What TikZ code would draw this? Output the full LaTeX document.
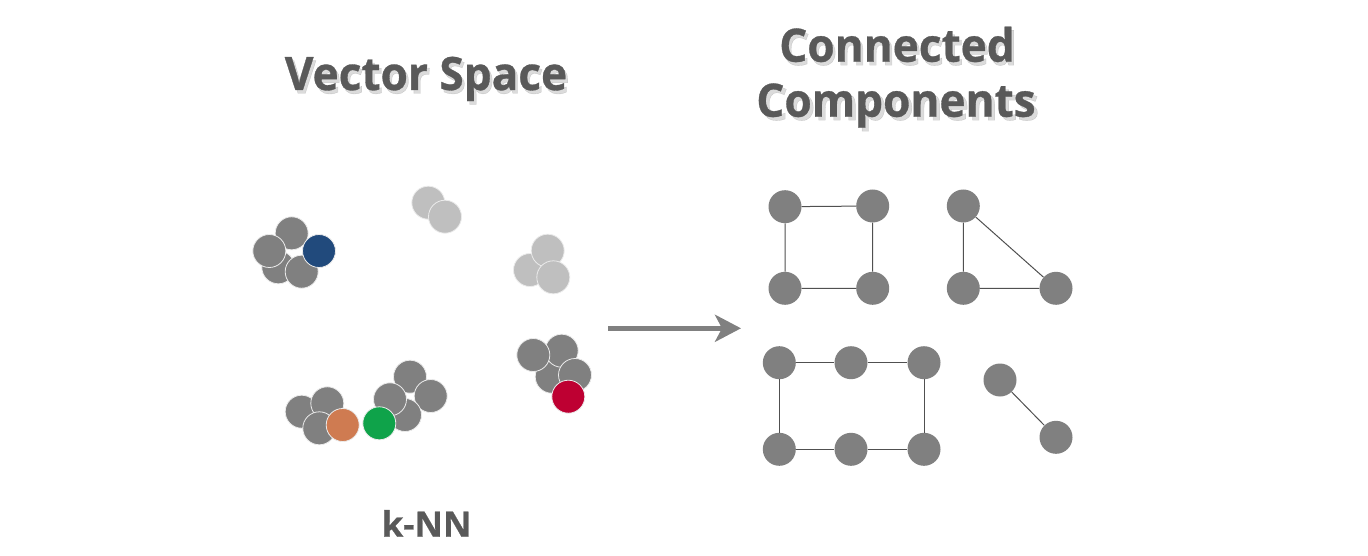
\documentclass[tikz,border=0pt]{standalone}
\usepackage{fontspec}
\setmainfont{Open Sans}
\newfontfamily\ttlfont{Open Sans}[BoldFeatures={FakeBold=0.7}]
\usetikzlibrary{arrows.meta}
\definecolor{txt}{HTML}{595959}
\definecolor{dg}{HTML}{808080}
\definecolor{lg}{HTML}{BFBFBF}
\definecolor{cblue}{HTML}{214A7C}
\definecolor{corange}{HTML}{CF7B51}
\definecolor{cgreen}{HTML}{0FA34A}
\definecolor{cred}{HTML}{BE0032}
\definecolor{edgec}{HTML}{505050}
\tikzset{
  pt/.style={circle, minimum size=33pt, inner sep=0pt, fill=#1, draw=white!92!black, line width=0.8pt},
  gn/.style={circle, minimum size=33pt, inner sep=0pt, fill=dg},
  ed/.style={draw=edgec, line width=1pt},
  ttl/.style={font=\ttlfont\bfseries\fontsize{46}{55}\selectfont, text=txt, inner sep=0pt, anchor=base, xscale=0.96},
  ttlsh/.style={font=\ttlfont\bfseries\fontsize{46}{55}\selectfont, text=black, opacity=0.14, inner sep=0pt, anchor=base, xscale=0.96},
  lbl/.style={font=\ttlfont\bfseries\fontsize{35}{42}\selectfont, text=txt, inner sep=0pt, anchor=base},
}
\begin{document}
\begin{tikzpicture}[x=1pt,y=-1pt]
\useasboundingbox (0,0) rectangle (1368,556);
% title shadows
\node[ttlsh] (vss) at (428.5,93.5) {Vector Space};
\node[ttlsh] (cas) at (899.5,65.2) {Connected};
\node[ttlsh] (cbs) at (899.5,120.2) {Components};
% titles
\node[ttl] (vs) at (426,90) {Vector Space};
\node[ttl] (ca) at (897,61.7) {Connected};
\node[ttl] (cb) at (896,116.7) {Components};
\node[lbl] (knn) at (426.5,536.7) {k-NN};
% vector space: cluster with blue
\node[pt=dg] (a1) at (278.3,267.3) {};
\node[pt=dg] (a2) at (291.7,233.3) {};
\node[pt=dg] (a3) at (269.3,251) {};
\node[pt=dg] (a4) at (301.7,271.7) {};
\node[pt=cblue] (a5) at (319,251) {};
% light clusters
\node[pt=lg] (b1) at (428.3,202.7) {};
\node[pt=lg] (b2) at (445,216.7) {};
\node[pt=lg] (c1) at (530,270) {};
\node[pt=lg] (c2) at (547.7,250.7) {};
\node[pt=lg] (c3) at (553.3,277.3) {};
% orange cluster
\node[pt=dg] (d1) at (301.7,411.7) {};
\node[pt=dg] (d2) at (327.3,403.3) {};
\node[pt=dg] (d3) at (319.3,428.3) {};
\node[pt=corange] (d4) at (342.7,425) {};
% green cluster
\node[pt=dg] (e1) at (410,376.7) {};
\node[pt=dg] (e2) at (430.7,396) {};
\node[pt=dg] (e3) at (405,415) {};
\node[pt=dg] (e4) at (390,399.3) {};
\node[pt=cgreen] (e5) at (379.3,423.3) {};
% red cluster
\node[pt=dg] (f1) at (551.7,376.7) {};
\node[pt=dg] (f2) at (561.7,350.7) {};
\node[pt=dg] (f3) at (533.3,355) {};
\node[pt=dg] (f4) at (575,375) {};
\node[pt=cred] (f5) at (568.3,396.7) {};
% arrow
\coordinate (as) at (608,328.3);
\coordinate (ae) at (741,328.3);
\draw[dg, line width=5pt, -{Stealth[length=26pt, width=27pt, inset=7pt]}] (as) -- (ae);
% connected components
\node[gn] (g1) at (785,206.7) {};
\node[gn] (g2) at (872.7,206) {};
\node[gn] (g3) at (785,288.3) {};
\node[gn] (g4) at (872.7,288.3) {};
\node[gn] (h1) at (963.3,206) {};
\node[gn] (h2) at (963.3,288.3) {};
\node[gn] (h3) at (1056,288.3) {};
\node[gn] (i1) at (779.3,362.7) {};
\node[gn] (i2) at (851,362.7) {};
\node[gn] (i3) at (924,362.7) {};
\node[gn] (i4) at (779.3,449.3) {};
\node[gn] (i5) at (851,449.3) {};
\node[gn] (i6) at (924,449.3) {};
\node[gn] (j1) at (1000,380) {};
\node[gn] (j2) at (1056,437.3) {};
\draw[ed] (g1) -- (g2) (g1) -- (g3) (g2) -- (g4) (g3) -- (g4);
\draw[ed] (h1) -- (h2) (h1) -- (h3) (h2) -- (h3);
\draw[ed] (i1) -- (i2) (i2) -- (i3) (i1) -- (i4) (i3) -- (i6) (i4) -- (i5) (i5) -- (i6);
\draw[ed] (j1) -- (j2);
\end{tikzpicture}
\end{document}
